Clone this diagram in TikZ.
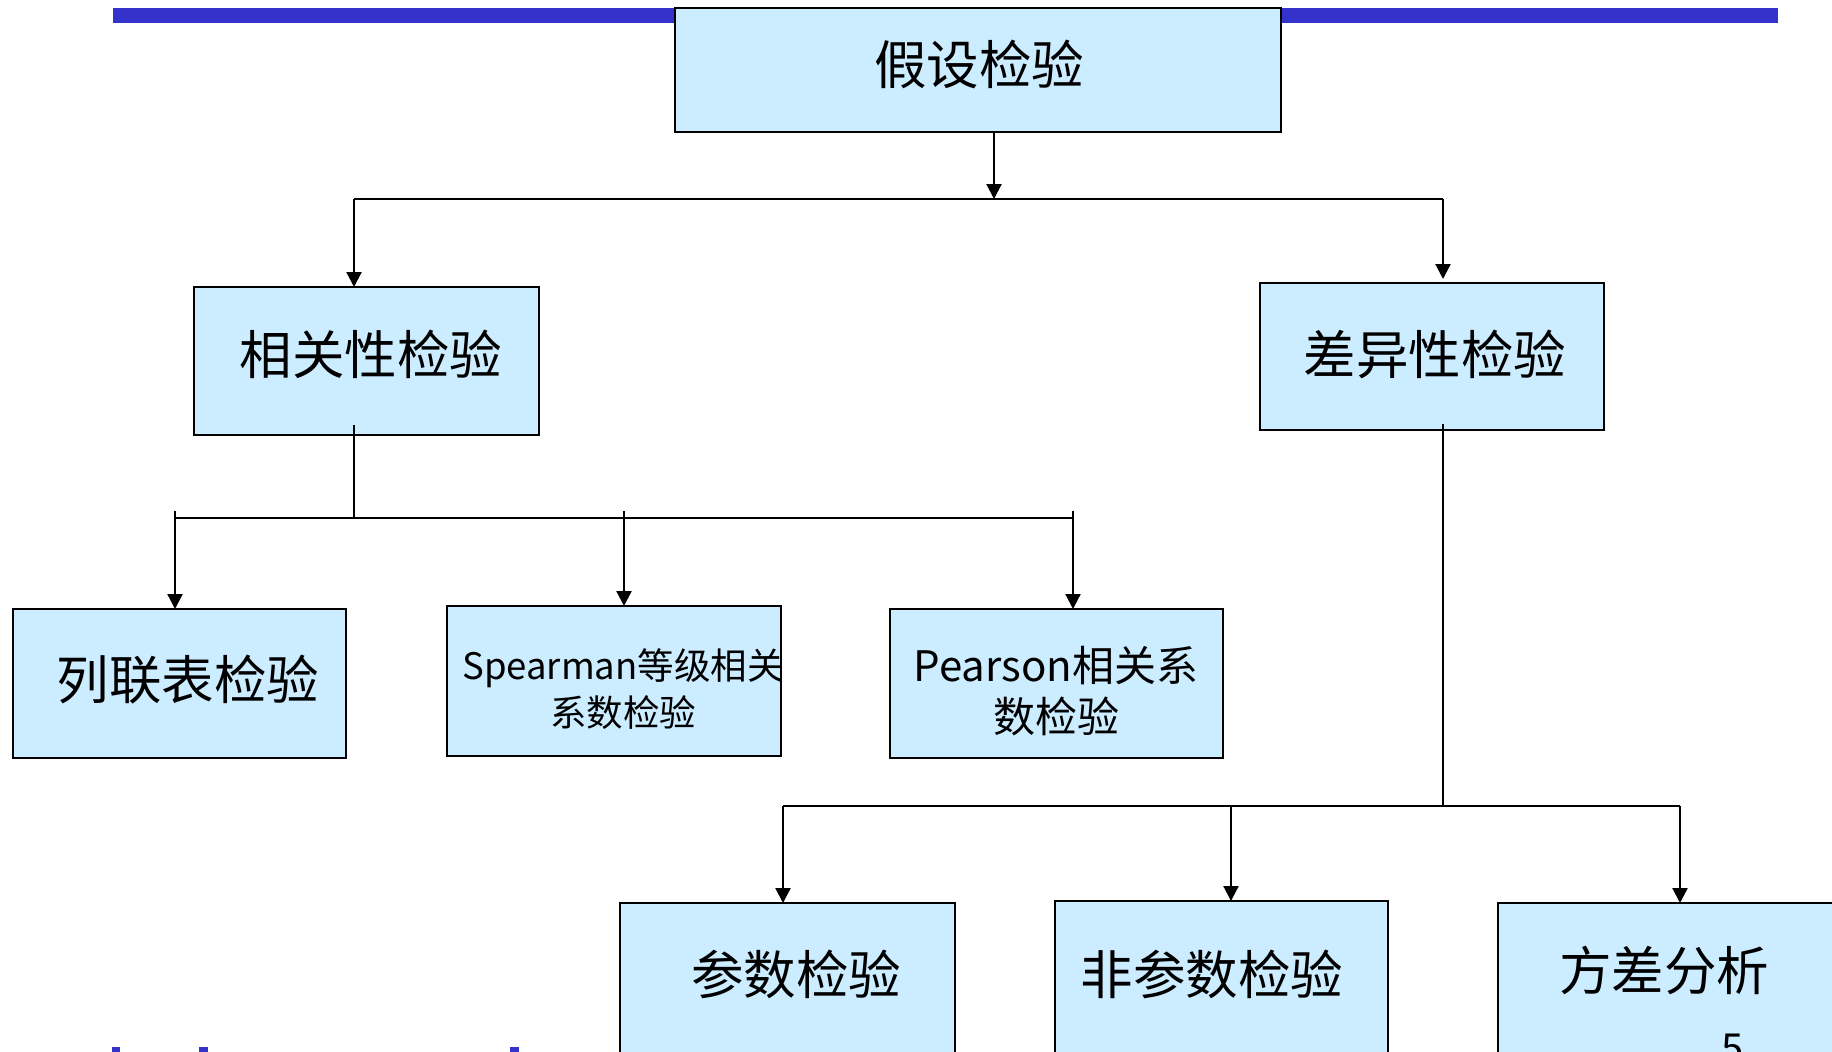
\documentclass[tikz,border=0pt]{standalone}
\usepackage{fontspec}
\setmainfont{Noto Sans CJK SC}
\usetikzlibrary{arrows.meta}
\definecolor{boxfill}{HTML}{CCECFF}
\definecolor{barblue}{HTML}{3333CC}
\begin{document}
\begin{tikzpicture}[x=1pt,y=-1pt,
  box/.style={draw=black,line width=2.6pt,fill=boxfill,anchor=north west,
    inner sep=0pt,outer sep=0pt},
  lbl/.style={inner sep=0pt,font=\fontsize{52.5}{60}\selectfont},
  conn/.style={draw=black,line width=2.2pt},
  arr/.style={conn,-{Triangle[width=15pt,length=15pt]}}]
\useasboundingbox (0,0) rectangle (1832,1052);
\clip (0,0) rectangle (1832,1052);

% title bar
\fill[barblue] (113,8) rectangle (1778,23);

% boxes
\node[box,minimum width=606pt,minimum height=124pt] (root) at (675,8) {};
\node[box,minimum width=345pt,minimum height=148pt] (corr) at (194,287) {};
\node[box,minimum width=344pt,minimum height=147pt] (diff) at (1260,283) {};
\node[box,minimum width=333pt,minimum height=149pt] (cont) at (13,609) {};
\node[box,minimum width=334pt,minimum height=150pt] (spear) at (447,606) {};
\node[box,minimum width=333pt,minimum height=149pt] (pear) at (890,609) {};
\node[box,minimum width=335pt,minimum height=200pt] (param) at (620,903) {};
\node[box,minimum width=333pt,minimum height=200pt] (nonp) at (1055,901) {};
\node[box,minimum width=340pt,minimum height=200pt] (anova) at (1498,903) {};

% labels
\node[lbl] (t-root) at (979,64) {假设检验};
\node[lbl] (t-corr) at (371,354) {相关性检验};
\node[lbl] (t-diff) at (1435,354) {差异性检验};
\node[lbl] (t-cont) at (188,680) {列联表检验};
\node[lbl,align=center,font=\fontsize{36.5}{47}\selectfont] (t-spear) at (623,689.5)
  {Spearman等级相关\\系数检验};
\node[lbl,align=center,font=\fontsize{42}{51}\selectfont] (t-pear) at (1056,691.5)
  {Pearson相关系\\数检验};
\node[lbl] (t-param) at (796,974) {参数检验};
\node[lbl] (t-nonp) at (1212,974) {非参数检验};
\node[lbl] (t-anova) at (1664,970) {方差分析};
\node[inner sep=0pt,anchor=base,font=\fontsize{40}{48}\selectfont] (pageno) at (1733,1062) {5};

% footer marks
\fill[barblue] (112,1047) rectangle (120,1052);
\fill[barblue] (199,1047) rectangle (208,1052);
\fill[barblue] (510,1047) rectangle (519,1052);

% first level
\coordinate (bA) at (994,199);
\coordinate (bL) at (354,199);
\coordinate (bR) at (1443,199);
\draw[arr] (root.south -| bA) -- (bA);
\draw[conn] (bL) -- (bR);
\draw[arr] (bL) -- (bL |- corr.north);
\draw[arr] (bR) -- ([yshift=4pt]bR |- diff.north);

% correlation branch
\coordinate (cM) at (354,518);
\coordinate (cL) at (175,518);
\coordinate (cC) at (624,518);
\coordinate (cR) at (1073,518);
\draw[conn] ([yshift=10pt]corr.south -| cM) -- (cM);
\draw[conn] (cL) -- (cR);
\draw[arr] ([yshift=7pt]cL) -- (cL |- cont.north);
\draw[arr] ([yshift=7pt]cC) -- (cC |- spear.north);
\draw[arr] ([yshift=7pt]cR) -- (cR |- pear.north);

% difference branch
\coordinate (dM) at (1443,806);
\coordinate (dL) at (783,806);
\coordinate (dC) at (1231,806);
\coordinate (dR) at (1680,806);
\draw[conn] ([yshift=6pt]diff.south -| dM) -- (dM);
\draw[conn] (dL) -- (dR);
\draw[arr] (dL) -- (dL |- param.north);
\draw[arr] (dC) -- (dC |- nonp.north);
\draw[arr] (dR) -- (dR |- anova.north);
\end{tikzpicture}
\end{document}
